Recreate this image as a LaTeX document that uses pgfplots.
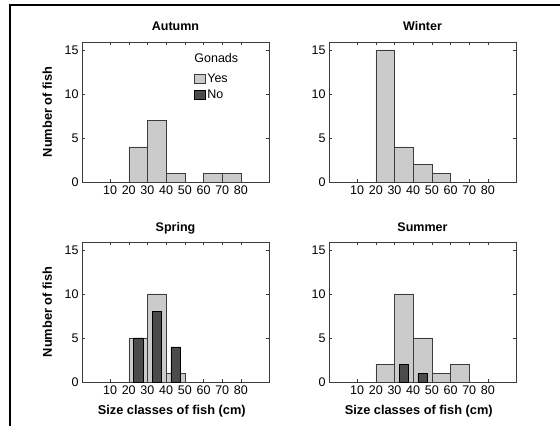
\documentclass[border=0pt]{standalone}
\usepackage{pgfplots}
\pgfplotsset{compat=1.18}
\usepackage{fontspec}
\setmainfont{Liberation Sans}

\definecolor{lightbar}{HTML}{CBCBCB}
\definecolor{darkbar}{HTML}{4B4B4B}
\definecolor{edge}{HTML}{3C3C3C}

\pgfplotsset{
  season/.style={
    scale only axis, width=187pt, height=140pt,
    xmin=-5, xmax=95, ymin=0, ymax=15.9,
    xtick={10,20,...,80}, ytick={0,5,10,15},
    tick align=inside, major tick length=3pt,
    axis line style={edge}, tick style={edge},
    ticklabel style={font=\fontsize{12.5}{14}\selectfont},
    /pgf/number format/assume math mode=true,
    every axis title/.style={at={(axis description cs:0.5,1)}, anchor=base, yshift=11pt,
      font=\bfseries\fontsize{12.5}{14}\selectfont},
    every axis y label/.style={at={(axis description cs:-0.185,0.5)}, rotate=90, anchor=center,
      font=\bfseries\fontsize{12.8}{14}\selectfont},
    every axis x label/.style={at={(axis description cs:0.48,-0.21)}, anchor=center,
      font=\bfseries\fontsize{12.8}{14}\selectfont},
    anchor=south west,
  },
  yes/.style={ybar, bar width=10, bar shift=0pt, fill=lightbar, draw=edge},
  no/.style={ybar, bar width=5, bar shift=0pt, fill=darkbar, draw=black},
}

\begin{document}
\begin{tikzpicture}
\path[use as bounding box] (0pt,0pt) rectangle (560pt,426pt);
\draw[line width=2pt] (10pt,0pt) -- (10pt,421pt) -- (560pt,421pt);

% Autumn
\begin{axis}[season, at={(82pt,244pt)}, title={Autumn}, ylabel={Number of fish},
  legend style={at={(axis description cs:0.6,0.79)}, anchor=north west, draw=none, fill=none,
    font=\fontsize{12.5}{14}\selectfont, row sep=2pt, inner sep=0pt},
  legend cell align=left,
  legend image code/.code={\draw[#1] (0pt,-4.5pt) rectangle (10.5pt,4.5pt);}]
  \addplot[yes] coordinates {(25,4) (35,7) (45,1) (65,1) (75,1)};
  \addlegendentry{Yes}
  \addlegendimage{fill=darkbar, draw=black}
  \addlegendentry{No}
  \node[anchor=west, font=\fontsize{12.5}{14}\selectfont, inner sep=0pt] at (axis description cs:0.6,0.889) {Gonads};
\end{axis}

% Winter
\begin{axis}[season, at={(329pt,244pt)}, title={Winter}]
  \addplot[yes] coordinates {(25,15) (35,4) (45,2) (55,1)};
\end{axis}

% Spring
\begin{axis}[season, at={(82pt,44pt)}, title={Spring}, ylabel={Number of fish},
  xlabel={Size classes of fish (cm)}]
  \addplot[yes] coordinates {(25,5) (35,10) (45,1)};
  \addplot[no] coordinates {(25,5) (35,8) (45,4)};
\end{axis}

% Summer
\begin{axis}[season, at={(329pt,44pt)}, title={Summer},
  xlabel={Size classes of fish (cm)}]
  \addplot[yes] coordinates {(25,2) (35,10) (45,5) (55,1) (65,2)};
  \addplot[no] coordinates {(35,2) (45,1)};
\end{axis}
\end{tikzpicture}
\end{document}
